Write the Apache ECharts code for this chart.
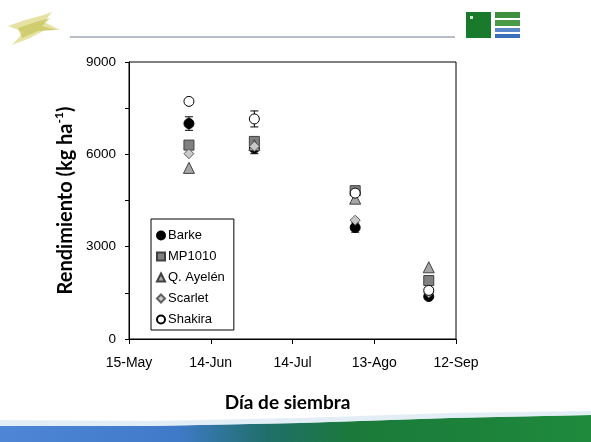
<!DOCTYPE html>
<html><head><meta charset="utf-8">
<script src="https://cdn.jsdelivr.net/npm/echarts@6/dist/echarts.min.js"></script>
<style>html,body{margin:0;padding:0;background:#fff}#c{width:591px;height:442px}</style>
</head><body><div id="c"></div>
<script>
// Days after 15-May for each sowing date (approx. 6-Jun, 30-Jun, 6-Aug, 2-Sep)
const sowingDays = [22, 46, 83, 110];
const tickLabels = ['15-May', '14-Jun', '14-Jul', '13-Ago', '12-Sep'];
const seriesNames = ['Barke', 'MP1010', 'Q. Ayelén', 'Scarlet', 'Shakira'];
const barke   = [7000, 6200, 3620, 1380];
const mp1010  = [6300, 6420, 4820, 1900];
const ayelen  = [5560, 6300, 4560, 2330];
const scarlet = [6020, 6260, 3860, 1500];
const shakira = [7720, 7150, 4740, 1580];
// error (standard error) values; 0 = not visible
const barkeErr   = [220, 180, 150, 60];
const mp1010Err  = [0, 0, 0, 0];
const ayelenErr  = [0, 0, 0, 0];
const scarletErr = [0, 0, 0, 0];
const shakiraErr = [0, 260, 0, 0];

const values = [barke, mp1010, ayelen, scarlet, shakira];
const errs = [barkeErr, mp1010Err, ayelenErr, scarletErr, shakiraErr];
const symbols = ['circle', 'rect', 'triangle', 'diamond', 'circle'];
const fills = ['#000000', '#808080', '#a6a6a6', '#c8c8c8', '#ffffff'];
const borders = ['#000000', '#404040', '#404040', '#606060', '#000000'];
const sizes = [10, 10, 11, 10, 10];

const chart = echarts.init(document.getElementById('c'), null, {renderer: 'canvas'});
const series = [];
values.forEach((vals, i) => {
  const ed = [];
  sowingDays.forEach((d, j) => { if (errs[i][j] > 0) ed.push([d, vals[j] - errs[i][j], vals[j] + errs[i][j]]); });
  series.push({
    type: 'custom', name: seriesNames[i] + '_err', silent: true, z: 2 + i,
    data: ed,
    renderItem: function (params, api) {
      const x = api.coord([api.value(0), api.value(1)]);
      const y2 = api.coord([api.value(0), api.value(2)]);
      const hw = 4;
      return {type: 'group', children: [
        {type: 'line', shape: {x1: x[0], y1: x[1], x2: y2[0], y2: y2[1]}, style: {stroke: '#000', lineWidth: 1}},
        {type: 'line', shape: {x1: x[0]-hw, y1: x[1], x2: x[0]+hw, y2: x[1]}, style: {stroke: '#000', lineWidth: 1}},
        {type: 'line', shape: {x1: y2[0]-hw, y1: y2[1], x2: y2[0]+hw, y2: y2[1]}, style: {stroke: '#000', lineWidth: 1}}
      ]};
    }
  });
  series.push({
    type: 'scatter', name: seriesNames[i], z: 3 + i,
    symbol: symbols[i], symbolSize: sizes[i],
    itemStyle: {color: fills[i], borderColor: borders[i], borderWidth: 1, opacity: 1},
    data: sowingDays.map((d, j) => [d, vals[j]])
  });
});

chart.setOption({
  animation: false,
  backgroundColor: '#ffffff',
  grid: {left: 129, right: 135, top: 62, bottom: 103, show: true, borderColor: '#000', borderWidth: 1},
  xAxis: {
    type: 'value', min: 0, max: 120, interval: 30,
    axisLine: {lineStyle: {color: '#000', width: 1}},
    axisTick: {length: 5, lineStyle: {color: '#000'}},
    splitLine: {show: false},
    axisLabel: {color: '#000', fontFamily: 'Liberation Sans, Arial', fontSize: 14, margin: 17,
      formatter: v => tickLabels[Math.round(v / 30)]},
    name: 'Día de siembra', nameLocation: 'middle', nameGap: 54,
    nameTextStyle: {color: '#000', fontFamily: 'Lato', fontWeight: 'bold', fontSize: 19, padding: [0, 10, 0, 0]}
  },
  yAxis: {
    type: 'value', min: 0, max: 9000, interval: 1500,
    axisLine: {show: true, lineStyle: {color: '#000', width: 1}},
    axisTick: {show: true, length: 4, lineStyle: {color: '#000'}},
    splitLine: {show: false},
    axisLabel: {color: '#000', fontFamily: 'Liberation Sans, Arial', fontSize: 13.5, margin: 13,
      formatter: v => (v % 3000 === 0 ? String(v) : '')},
    name: '{a|Rendimiento (kg ha}{s|-1}{a|)}', nameLocation: 'middle', nameGap: 51, nameRotate: 90,
    nameTextStyle: {color: '#000', rich: {
      a: {fontFamily: 'Lato', fontWeight: 'bold', fontSize: 20, color: '#000', lineHeight: 24},
      s: {fontFamily: 'Lato', fontWeight: 'bold', fontSize: 12, color: '#000', verticalAlign: 'top', lineHeight: 24, padding: [0, 0, 10, 0]}
    }}
  },
  legend: {
    orient: 'vertical', left: 151, top: 219,
    data: seriesNames,
    backgroundColor: '#fff', borderColor: '#000', borderWidth: 1,
    padding: [9, 9, 3, 5], itemGap: 6, itemWidth: 8, itemHeight: 8,
    textStyle: {color: '#000', fontFamily: 'Liberation Sans, Arial', fontSize: 13, lineHeight: 15, padding: [0, 0, 0, -2]},
    selectedMode: false
  },
  graphic: [
    // header rule
    {type: 'rect', shape: {x: 70, y: 36, width: 385, height: 2}, style: {fill: '#b9bdc6'}},
    // left logo (stylised plant)
    {type: 'polygon', shape: {points: [[8,26],[25,20],[40,16],[52,12],[44,22],[60,30],[45,30],[30,38],[12,45],[24,32]]}, style: {fill: '#e3df9a', opacity: 0.9}},
    {type: 'polygon', shape: {points: [[18,28],[36,22],[50,18],[42,26],[56,30],[38,31],[22,38]]}, style: {fill: '#c9c860', opacity: 0.8}},
    // right logos
    {type: 'rect', shape: {x: 466, y: 12, width: 25, height: 26}, style: {fill: '#1a7a2c'}},
    {type: 'rect', shape: {x: 470, y: 16, width: 3, height: 3}, style: {fill: '#cfe8cf'}},
    {type: 'rect', shape: {x: 495, y: 12, width: 25, height: 6}, style: {fill: '#3e8f3e'}},
    {type: 'rect', shape: {x: 495, y: 20, width: 25, height: 6}, style: {fill: '#4a9a48'}},
    {type: 'rect', shape: {x: 495, y: 28, width: 25, height: 4}, style: {fill: '#5a88c8'}},
    {type: 'rect', shape: {x: 495, y: 34, width: 25, height: 4}, style: {fill: '#3a70b8'}},
    // bottom swoosh
    {type: 'polygon', shape: {points: [[0,426],[150,426],[300,423],[450,418],[591,415],[591,442],[0,442]]},
     style: {fill: new echarts.graphic.LinearGradient(0, 0, 1, 0, [
       {offset: 0, color: '#4f86d6'}, {offset: 0.3, color: '#3f7ac8'}, {offset: 0.45, color: '#1f6f6a'},
       {offset: 0.6, color: '#1b7a3a'}, {offset: 1, color: '#1e8a3c'}])}},
    {type: 'polygon', shape: {points: [[0,420],[150,421],[300,418],[450,413],[591,411],[591,415],[450,418],[300,423],[150,426],[0,426]]},
     style: {fill: '#dbe8f4', opacity: 0.8}}
  ],
  series: series
});
</script></body></html>
